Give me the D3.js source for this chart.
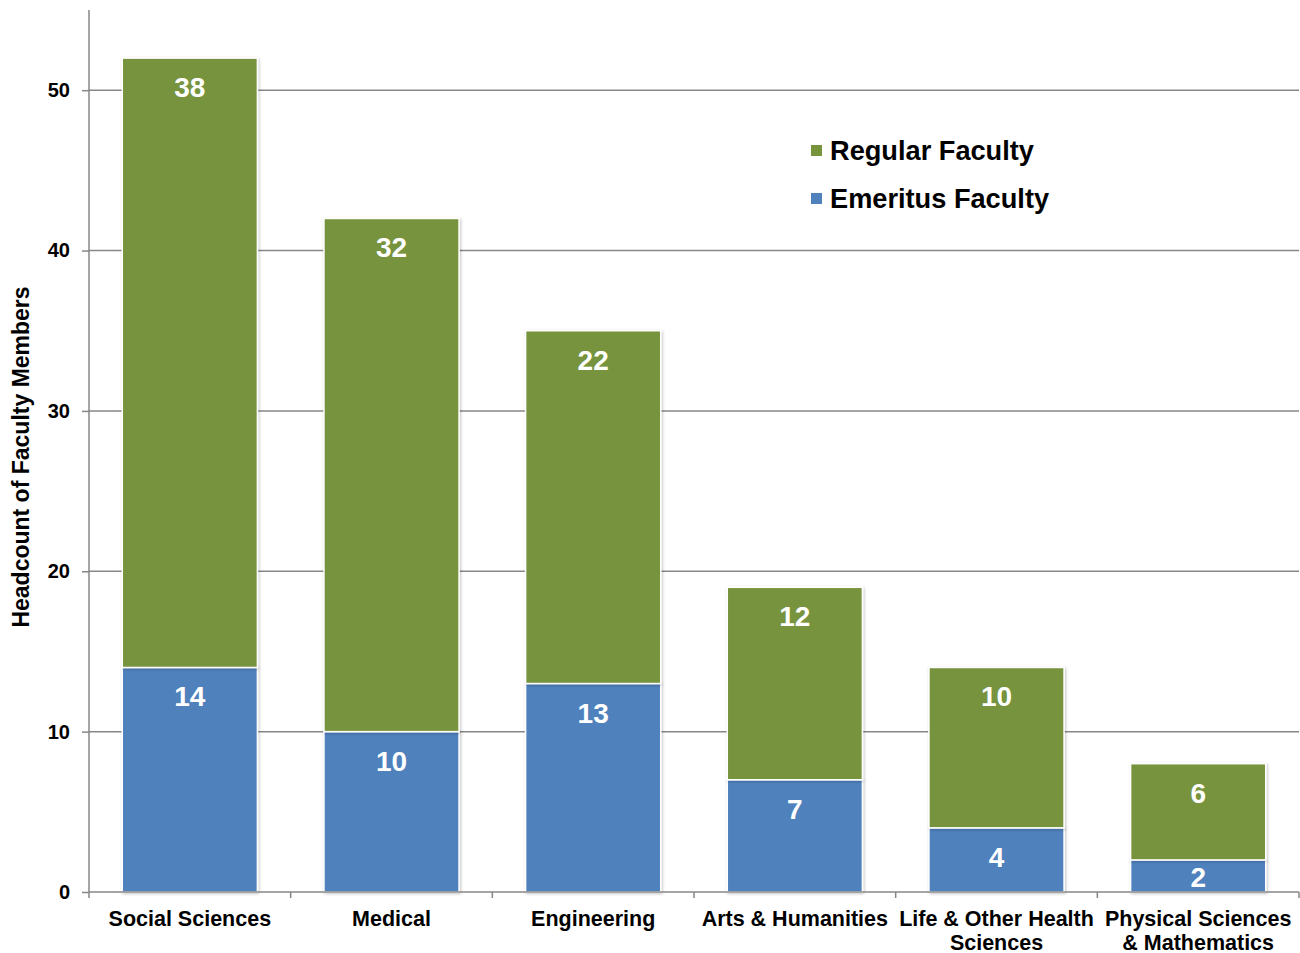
<!DOCTYPE html>
<html><head><meta charset="utf-8">
<script src="https://cdn.jsdelivr.net/npm/d3@7"></script>
<style>body{margin:0;background:#fff;font-family:"Liberation Sans",Arial,sans-serif;}</style>
</head><body>
<svg id="chart" width="1300" height="953"></svg>
<script>
const categories = ["Social Sciences","Medical","Engineering","Arts & Humanities","Life & Other Health Sciences","Physical Sciences & Mathematics"];
const categoryLines = [["Social Sciences"],["Medical"],["Engineering"],["Arts & Humanities"],["Life & Other Health","Sciences"],["Physical Sciences","& Mathematics"]];
const emeritus = [14,10,13,7,4,2];
const regular = [38,32,22,12,10,6];
const seriesNames = ["Emeritus Faculty","Regular Faculty"];
const colors = {"Emeritus Faculty":"#4F81BD","Regular Faculty":"#77933C"};
const yTicks = [0,10,20,30,40,50];

const svg = d3.select("#chart");
const defs = svg.append("defs");
const f = defs.append("filter").attr("id","sh").attr("x","-10%").attr("y","-10%").attr("width","130%").attr("height","130%");
f.append("feDropShadow").attr("dx",1).attr("dy",1).attr("stdDeviation",1.5).attr("flood-color","#000").attr("flood-opacity",0.25);

const pL=89, pR=1299, pT=10, pB=892;
const x = d3.scaleBand().domain(categories).range([pL,pR]).paddingInner(0.33).paddingOuter(0.165);
const y = d3.scaleLinear().domain([0,55]).range([pB,pT]);

const data = categories.map((c,i)=>({cat:c,"Emeritus Faculty":emeritus[i],"Regular Faculty":regular[i]}));
const stack = d3.stack().keys(seriesNames)(data);

// gridlines
svg.append("g").selectAll("line").data(yTicks.filter(d=>d>0)).join("line")
  .attr("x1",pL).attr("x2",pR).attr("y1",d=>y(d)).attr("y2",d=>y(d))
  .attr("stroke","#878787").attr("stroke-width",1.5);

// y axis
const yAxis = svg.append("g").attr("transform",`translate(${pL},0)`)
  .call(d3.axisLeft(y).tickValues(yTicks).tickSize(7).tickPadding(12));
yAxis.select(".domain").attr("stroke","#878787").attr("stroke-width",1.5).attr("d",`M0,${pT}V${pB}`);
yAxis.selectAll(".tick line").attr("stroke","#878787").attr("stroke-width",1.5);
yAxis.selectAll(".tick text").attr("font-family","Liberation Sans, Arial, sans-serif").attr("font-size",20).attr("font-weight","bold").attr("fill","#000");

// bars
const layer = svg.append("g").selectAll("g").data(stack).join("g").attr("fill",d=>colors[d.key]);
layer.selectAll("rect").data(d=>d).join("rect")
  .attr("x",d=>x(d.data.cat)).attr("width",x.bandwidth())
  .attr("y",d=>y(d[1])).attr("height",d=>y(d[0])-y(d[1]))
  .attr("stroke","#fff").attr("stroke-width",1.5).attr("filter","url(#sh)");

// value labels
const labels = svg.append("g").selectAll("g").data(stack).join("g");
labels.selectAll("text").data(d=>d).join("text")
  .attr("x",d=>x(d.data.cat)+x.bandwidth()/2)
  .attr("y",d=>Math.min(y(d[1])+39, y(d[0])-5))
  .attr("text-anchor","middle").attr("fill","#fff")
  .attr("font-family","Liberation Sans, Arial, sans-serif").attr("font-size",28).attr("font-weight","bold")
  .text(d=>d[1]-d[0]);

// x axis
const xg = svg.append("g");
xg.append("line").attr("x1",pL).attr("x2",pR).attr("y1",pB).attr("y2",pB).attr("stroke","#878787").attr("stroke-width",1.5);
const step = x.step();
const bounds = d3.range(categories.length+1).map(i=>pL+i*step);
xg.selectAll(".tk").data(bounds).join("line").attr("class","tk")
  .attr("x1",d=>d).attr("x2",d=>d).attr("y1",pB).attr("y2",pB+6)
  .attr("stroke","#878787").attr("stroke-width",1.5);
const xl = xg.selectAll("text.cat").data(categories).join("text").attr("class","cat")
  .attr("x",d=>x(d)+x.bandwidth()/2).attr("y",926)
  .attr("text-anchor","middle").attr("font-family","Liberation Sans, Arial, sans-serif")
  .attr("font-size",21.5).attr("font-weight","bold").attr("fill","#000");
xl.each(function(d,i){
  const t=d3.select(this);
  categoryLines[i].forEach((ln,j)=>t.append("tspan").attr("x",x(d)+x.bandwidth()/2).attr("dy",j?23.5:0).text(ln));
});

// y title
svg.append("text").attr("transform","translate(29,457) rotate(-90)").attr("text-anchor","middle")
  .attr("font-family","Liberation Sans, Arial, sans-serif").attr("font-size",23).attr("font-weight","bold").attr("fill","#000")
  .text("Headcount of Faculty Members");

// legend
const legendItems = ["Regular Faculty","Emeritus Faculty"];
const lg = svg.append("g").selectAll("g").data(legendItems).join("g")
  .attr("transform",(d,i)=>`translate(811,${160+i*48})`);
lg.append("rect").attr("x",0).attr("y",-15).attr("width",11).attr("height",11).attr("fill",d=>colors[d]);
lg.append("text").attr("x",19).attr("y",0).attr("font-family","Liberation Sans, Arial, sans-serif")
  .attr("font-size",27.2).attr("font-weight","bold").attr("fill","#000").text(d=>d);
</script>
</body></html>
